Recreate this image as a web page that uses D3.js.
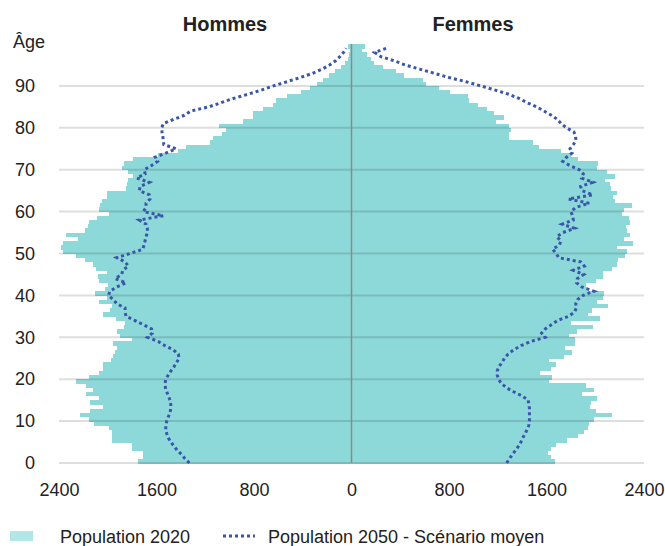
<!DOCTYPE html>
<html>
<head>
<meta charset="utf-8">
<script src="https://cdn.jsdelivr.net/npm/d3@7"></script>
<style>
  body { margin: 0; background: #fff; }
  text { font-family: "Liberation Sans", Helvetica, Arial, sans-serif; fill: #222; }
</style>
</head>
<body>
<script>
// ages 0..99, one value per year of age
var ages = d3.range(0, 100);

var hommes2020 = [1749, 1713, 1713, 1803, 1803, 1967, 1967, 1967, 1990, 2112,
  2151, 2227, 2145, 2041, 2145, 2071, 2178, 2118, 2178, 2260,
  2151, 2069, 2041, 2041, 1975, 1960, 1940, 1921, 1954, 1803,
  1899, 1921, 1866, 1858, 1932, 2036, 1981, 1968, 2071, 2009,
  2104, 2022, 1995, 2071, 2077, 2003, 2096, 2123, 2186, 2260,
  2364, 2383, 2364, 2241, 2342, 2186, 2159, 2151, 2090, 1990,
  2069, 2063, 2050, 2003, 2003, 1850, 1839, 1831, 1790, 1831,
  1885, 1866, 1795, 1590, 1420, 1360, 1160, 1140, 1065, 1030,
  1087, 888, 806, 806, 724, 642, 620, 527, 417, 340,
  286, 231, 182, 135, 86, 53, 26, 20, 12, 30];

var femmes2020 = [1669, 1637, 1615, 1637, 1678, 1765, 1855, 1907, 1943, 1951,
  1989, 2135, 2003, 1957, 1965, 2011, 1888, 1989, 1924, 1620,
  1642, 1546, 1634, 1678, 1623, 1743, 1806, 1751, 1834, 1834,
  1787, 1847, 1984, 1798, 2039, 1943, 1971, 2102, 2017, 2061,
  2072, 1935, 1924, 2006, 2066, 2066, 2135, 2181, 2189, 2244,
  2258, 2181, 2307, 2235, 2285, 2260, 2252, 2285, 2279, 2216,
  2235, 2304, 2162, 2148, 2181, 2129, 2121, 2080, 2162, 2093,
  2011, 2025, 1858, 1800, 1716, 1541, 1491, 1295, 1295, 1306,
  1292, 1183, 1251, 1169, 1109, 1035, 966, 958, 808, 720,
  611, 589, 433, 363, 261, 185, 158, 125, 89, 111];

var hommes2050 = [1330, 1366, 1393, 1429, 1456, 1483, 1503, 1516, 1524, 1524,
  1516, 1503, 1489, 1483, 1483, 1489, 1503, 1516, 1527, 1530,
  1524, 1503, 1481, 1456, 1435, 1415, 1421, 1462, 1530, 1585,
  1675, 1634, 1640, 1708, 1776, 1850, 1858, 1858, 1926, 1954,
  1995, 1981, 1926, 1850, 1940, 1885, 1877, 1831, 1858, 1926,
  1817, 1713, 1702, 1694, 1686, 1675, 1675, 1686, 1741, 1544,
  1708, 1686, 1686, 1653, 1659, 1741, 1735, 1659, 1762, 1694,
  1700, 1640, 1590, 1610, 1520, 1440, 1540, 1545, 1548, 1555,
  1557, 1544, 1460, 1370, 1320, 1170, 1070, 970, 850, 740,
  640, 530, 420, 320, 240, 180, 130, 95, 65, 45];

var femmes2050 = [1273, 1295, 1320, 1345, 1370, 1390, 1405, 1425, 1440, 1455,
  1460, 1460, 1460, 1460, 1455, 1450, 1400, 1330, 1270, 1230,
  1205, 1196, 1196, 1210, 1235, 1255, 1285, 1330, 1390, 1470,
  1590, 1560, 1590, 1640, 1690, 1780, 1830, 1845, 1840, 1855,
  1900, 1990, 1890, 1847, 1853, 1905, 1820, 1910, 1880, 1700,
  1680, 1650, 1705, 1720, 1683, 1735, 1830, 1730, 1820, 1814,
  1800, 1840, 1950, 1780, 1980, 1890, 1880, 1980, 1888, 1902,
  1869, 1790, 1733, 1765, 1810, 1793, 1820, 1842, 1838, 1825,
  1765, 1720, 1690, 1640, 1580, 1519, 1440, 1375, 1290, 1180,
  1060, 940, 800, 680, 560, 440, 350, 240, 190, 290];

var xTicks = [-2400, -1600, -800, 0, 800, 1600, 2400];
var yTicks = [0, 10, 20, 30, 40, 50, 60, 70, 80, 90];
var titres = ["Hommes", "Femmes"];
var legendLabels = ["Population 2020", "Population 2050 - Scénario moyen"];

var barColor = "#8dd8d9";
var lineColor = "#3a56a8";

main();

function main() {
  setupCanvas();
  setupScales();
  drawBars();
  drawGrid();
  drawAxes();
  drawLines();
  drawTitles();
  drawLegend();
}

function setupCanvas() {
  width = 665;
  height = 546;
  svg = d3.select("body").append("svg")
    .attr("width", width)
    .attr("height", height);
}

function setupScales() {
  x = d3.scaleLinear().domain([-2400, 2400]).range([59, 644]);
  y = d3.scaleLinear().domain([0, 100]).range([463, 44]);
}

function drawBars() {
  var g = svg.append("g").attr("shape-rendering", "crispEdges");
  // men on the left (negative side)
  g.selectAll("rect.h")
    .data(ages)
    .enter().append("rect")
    .attr("class", "h")
    .attr("x", function (a) { return x(-hommes2020[a]); })
    .attr("y", function (a) { return y(a + 1); })
    .attr("width", function (a) { return x(0) - x(-hommes2020[a]); })
    .attr("height", function (a) { return y(a) - y(a + 1) + 0.5; })
    .attr("fill", barColor);
  // women on the right
  g.selectAll("rect.f")
    .data(ages)
    .enter().append("rect")
    .attr("class", "f")
    .attr("x", x(0))
    .attr("y", function (a) { return y(a + 1); })
    .attr("width", function (a) { return x(femmes2020[a]) - x(0); })
    .attr("height", function (a) { return y(a) - y(a + 1) + 0.5; })
    .attr("fill", barColor);
}

function drawGrid() {
  svg.append("g").selectAll("line")
    .data(yTicks)
    .enter().append("line")
    .attr("x1", x(-2400))
    .attr("x2", x(2400))
    .attr("y1", function (d) { return y(d); })
    .attr("y2", function (d) { return y(d); })
    .attr("stroke", "#000")
    .attr("stroke-opacity", 0.13)
    .attr("stroke-width", 2);

  // vertical zero line
  svg.append("line")
    .attr("x1", x(0)).attr("x2", x(0))
    .attr("y1", y(100)).attr("y2", y(0))
    .attr("stroke", "#8a8a8a")
    .attr("stroke-width", 1.5);
}

function drawAxes() {
  var xAxis = svg.append("g")
    .attr("transform", "translate(0," + y(0) + ")")
    .call(d3.axisBottom(x).tickValues(xTicks)
      .tickFormat(function (d) { return Math.abs(d); })
      .tickSize(0).tickPadding(20));
  xAxis.select(".domain").remove();
  xAxis.selectAll("text")
    .style("font-size", "18px")
    .style("font-family", "Liberation Sans, Arial, sans-serif")
    .attr("fill", "#222");

  var yAxis = svg.append("g")
    .attr("transform", "translate(" + x(-2400) + ",0)")
    .call(d3.axisLeft(y).tickValues(yTicks).tickSize(0).tickPadding(24));
  yAxis.select(".domain").remove();
  yAxis.selectAll("text")
    .style("font-size", "18px")
    .style("font-family", "Liberation Sans, Arial, sans-serif")
    .attr("fill", "#222");

  svg.append("text")
    .attr("x", 13)
    .attr("y", 48)
    .style("font-size", "18px")
    .text("Âge");
}

function drawLines() {
  var lineH = d3.line()
    .x(function (a) { return x(-hommes2050[a]); })
    .y(function (a) { return y(a); });
  var lineF = d3.line()
    .x(function (a) { return x(femmes2050[a]); })
    .y(function (a) { return y(a); });

  [lineH, lineF].forEach(function (l) {
    svg.append("path")
      .datum(ages)
      .attr("d", l)
      .attr("fill", "none")
      .attr("stroke", lineColor)
      .attr("stroke-width", 3)
      .attr("stroke-dasharray", "3,3");
  });
}

function drawTitles() {
  svg.selectAll("text.titre")
    .data(titres)
    .enter().append("text")
    .attr("class", "titre")
    .attr("x", function (d, i) { return i === 0 ? 225 : 473; })
    .attr("y", 31)
    .attr("text-anchor", "middle")
    .style("font-size", "20px")
    .style("font-weight", "bold")
    .text(function (d) { return d; });
}

function drawLegend() {
  var g = svg.append("g");
  g.append("rect")
    .attr("x", 10).attr("y", 531)
    .attr("width", 23).attr("height", 10)
    .attr("fill", "#b3e6e6");
  g.append("text")
    .attr("x", 60).attr("y", 543)
    .style("font-size", "18px")
    .text(legendLabels[0]);
  g.append("line")
    .attr("x1", 223).attr("x2", 255)
    .attr("y1", 536).attr("y2", 536)
    .attr("stroke", lineColor)
    .attr("stroke-width", 3)
    .attr("stroke-dasharray", "3,3");
  g.append("text")
    .attr("x", 268).attr("y", 543)
    .style("font-size", "18px")
    .text(legendLabels[1]);
}
</script>
</body>
</html>
